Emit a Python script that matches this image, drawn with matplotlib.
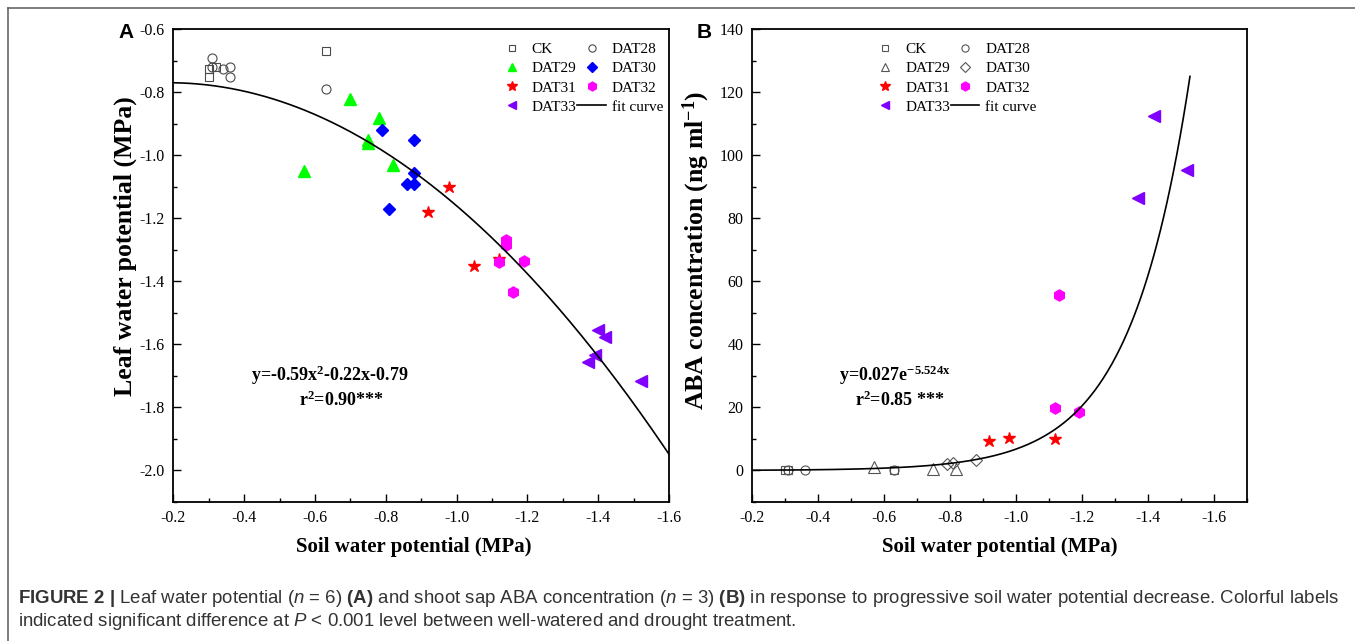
import numpy as np
import matplotlib
matplotlib.use('Agg')
import matplotlib.pyplot as plt
from matplotlib.lines import Line2D
from matplotlib.ticker import MultipleLocator, FormatStrFormatter
from matplotlib import font_manager as fm

# ---------------- data ----------------
# Panel A: leaf water potential (MPa) vs soil water potential (MPa)
ck_x_a = [-0.30, -0.30, -0.32, -0.63]
ck_y_a = [-0.725, -0.75, -0.72, -0.67]
dat28_x_a = [-0.31, -0.31, -0.34, -0.36, -0.36, -0.63]
dat28_y_a = [-0.69, -0.72, -0.725, -0.72, -0.75, -0.79]
dat29_x_a = [-0.57, -0.70, -0.75, -0.75, -0.78, -0.82]
dat29_y_a = [-1.05, -0.82, -0.95, -0.96, -0.88, -1.03]
dat30_x_a = [-0.79, -0.81, -0.86, -0.88, -0.88, -0.88]
dat30_y_a = [-0.92, -1.17, -1.09, -1.09, -1.055, -0.95]
dat31_x_a = [-0.92, -0.98, -1.05, -1.12]
dat31_y_a = [-1.18, -1.10, -1.35, -1.33]
dat32_x_a = [-1.12, -1.14, -1.14, -1.16, -1.19]
dat32_y_a = [-1.34, -1.27, -1.285, -1.435, -1.335]
dat33_x_a = [-1.37, -1.39, -1.40, -1.42, -1.52]
dat33_y_a = [-1.655, -1.635, -1.555, -1.575, -1.715]
fit_a = (-0.59, -0.22, -0.79)          # y = a x^2 + b x + c
fit_a_range = (-0.2, -1.6)

# Panel B: ABA concentration (ng/ml) vs soil water potential (MPa)
ck_x_b = [-0.30, -0.31, -0.63]
ck_y_b = [0.3, 0.3, 0.3]
dat28_x_b = [-0.31, -0.36, -0.63]
dat28_y_b = [0.2, 0.2, 0.2]
dat29_x_b = [-0.57, -0.75, -0.82]
dat29_y_b = [1.2, 0.4, 0.4]
dat30_x_b = [-0.79, -0.81, -0.88]
dat30_y_b = [2.0, 2.3, 3.3]
dat31_x_b = [-0.92, -0.98, -1.12]
dat31_y_b = [9.5, 10.4, 9.9]
dat32_x_b = [-1.12, -1.19, -1.13]
dat32_y_b = [19.8, 18.5, 55.7]
dat33_x_b = [-1.37, -1.42, -1.52]
dat33_y_b = [86.4, 112.4, 95.2]
fit_b = (0.027, -5.524)                 # y = a * exp(b x)
fit_b_range = (-0.2, -1.528)

x_ticks = [-0.2, -0.4, -0.6, -0.8, -1.0, -1.2, -1.4, -1.6]
y_ticks_a = [-0.6, -0.8, -1.0, -1.2, -1.4, -1.6, -1.8, -2.0]
y_ticks_b = [0, 20, 40, 60, 80, 100, 120, 140]

# ---------------- style ----------------
names = {f.name for f in fm.fontManager.ttflist}
cap_family = 'Liberation Sans Narrow' if 'Liberation Sans Narrow' in names else 'Liberation Sans'
SERIF = 'Liberation Serif'

plt.rcParams['font.family'] = [SERIF, 'DejaVu Serif']
plt.rcParams['axes.unicode_minus'] = False
plt.rcParams['mathtext.fontset'] = 'custom'
plt.rcParams['mathtext.rm'] = 'Liberation Serif:bold'
plt.rcParams['mathtext.default'] = 'rm'
plt.rcParams['mathtext.it'] = cap_family + ':italic'
plt.rcParams['mathtext.bf'] = cap_family + ':bold'

W, H = 1355, 641
fig = plt.figure(figsize=(W / 100, H / 100), dpi=100)
fig.patch.set_facecolor('white')

# outer frame (top and left border lines)
fig.add_artist(Line2D([8 / W, 1.0], [1 - 8 / H, 1 - 8 / H], transform=fig.transFigure,
                      color='#5a5a5a', lw=1.1))
fig.add_artist(Line2D([8 / W, 8 / W], [0, 1 - 8 / H], transform=fig.transFigure,
                      color='#5a5a5a', lw=1.1))

ax_bottom = 1 - 502 / H
ax_height = (502 - 29.3) / H
axA = fig.add_axes([173.3 / W, ax_bottom, (669 - 173.3) / W, ax_height])
axB = fig.add_axes([752 / W, ax_bottom, (1246.7 - 752) / W, ax_height])

GREEN, BLUE, RED, MAGENTA, PURPLE = '#00FF00', '#0000FF', '#FF0000', '#FF00FF', '#8000FF'
OPEN_EDGE = '#4a4a4a'


def style_axes(ax):
    for s in ax.spines.values():
        s.set_linewidth(1.3)
        s.set_color('black')
    ax.tick_params(which='both', direction='in', top=False, right=False,
                   labelsize=11.5, width=1.0, color='black', pad=6)
    ax.tick_params(which='major', length=6)
    ax.tick_params(which='minor', length=3)


LEG_KW = dict(ncol=2, loc='upper left', frameon=False, borderaxespad=0, borderpad=0,
              handlelength=1.85, handletextpad=0.4, columnspacing=0.05, labelspacing=0.36,
              numpoints=1, markerscale=0.8, prop={'family': SERIF, 'size': 11})

# ---------------- panel A ----------------
kw_open = dict(linestyle='none', markerfacecolor='none', markeredgecolor=OPEN_EDGE, markeredgewidth=0.8)
h_ck, = axA.plot(ck_x_a, ck_y_a, marker='s', markersize=6, label='CK', **kw_open)
h_28, = axA.plot(dat28_x_a, dat28_y_a, marker='o', markersize=6.5, label='DAT28', **kw_open)
h_29, = axA.plot(dat29_x_a, dat29_y_a, linestyle='none', marker='^', markersize=8, color=GREEN, label='DAT29')
h_30, = axA.plot(dat30_x_a, dat30_y_a, linestyle='none', marker='D', markersize=6.5, color=BLUE, label='DAT30')
h_31, = axA.plot(dat31_x_a, dat31_y_a, linestyle='none', marker='*', markersize=9, color=RED, label='DAT31')
h_32, = axA.plot(dat32_x_a, dat32_y_a, linestyle='none', marker='h', markersize=8, color=MAGENTA, label='DAT32')
h_33, = axA.plot(dat33_x_a, dat33_y_a, linestyle='none', marker='<', markersize=8, color=PURPLE, label='DAT33')
xa = np.linspace(fit_a_range[0], fit_a_range[1], 300)
h_fit, = axA.plot(xa, fit_a[0] * xa ** 2 + fit_a[1] * xa + fit_a[2], color='black', lw=1.2, label='fit curve')

axA.set_xlim(-0.2, -1.6)
axA.set_ylim(-2.1, -0.6)
axA.set_xticks(x_ticks)
axA.set_yticks(y_ticks_a)
axA.xaxis.set_minor_locator(MultipleLocator(0.1))
axA.yaxis.set_minor_locator(MultipleLocator(0.1))
axA.xaxis.set_major_formatter(FormatStrFormatter('%.1f'))
axA.yaxis.set_major_formatter(FormatStrFormatter('%.1f'))
style_axes(axA)
axA.set_xlabel('Soil water potential (MPa)', fontfamily=SERIF, fontweight='bold', fontsize=15)
axA.set_ylabel('Leaf water potential (MPa)', fontfamily=SERIF, fontweight='bold', fontsize=18.5)
axA.xaxis.set_label_coords(0.485, -0.075)
axA.yaxis.set_label_coords(-0.074, 0.542)

axA.legend(handles=[h_ck, h_29, h_31, h_33, h_28, h_30, h_32, h_fit],
           bbox_to_anchor=(0.654, 0.972), **LEG_KW)

axA.text(0.316, 0.269, 'y=-0.59x$^{2}$-0.22x-0.79', transform=axA.transAxes, ha='center', va='center',
         fontfamily=SERIF, fontweight='bold', fontsize=13)
axA.text(0.339, 0.216, 'r$^{2}$=0.90***', transform=axA.transAxes, ha='center', va='center',
         fontfamily=SERIF, fontweight='bold', fontsize=13)

# ---------------- panel B ----------------
kw_open_b = dict(linestyle='none', markerfacecolor='none', markeredgecolor='#555555', markeredgewidth=0.8)
g_ck, = axB.plot(ck_x_b, ck_y_b, marker='s', markersize=6, label='CK', **kw_open_b)
g_28, = axB.plot(dat28_x_b, dat28_y_b, marker='o', markersize=6.5, label='DAT28', **kw_open_b)
g_29, = axB.plot(dat29_x_b, dat29_y_b, marker='^', markersize=8, label='DAT29', **kw_open_b)
g_30, = axB.plot(dat30_x_b, dat30_y_b, marker='D', markersize=6.5, label='DAT30', **kw_open_b)
g_31, = axB.plot(dat31_x_b, dat31_y_b, linestyle='none', marker='*', markersize=9, color=RED, label='DAT31')
g_32, = axB.plot(dat32_x_b, dat32_y_b, linestyle='none', marker='h', markersize=8, color=MAGENTA, label='DAT32')
g_33, = axB.plot(dat33_x_b, dat33_y_b, linestyle='none', marker='<', markersize=8, color=PURPLE, label='DAT33')
xb = np.linspace(fit_b_range[0], fit_b_range[1], 400)
g_fit, = axB.plot(xb, fit_b[0] * np.exp(fit_b[1] * xb), color='black', lw=1.2, label='fit curve')

axB.set_xlim(-0.2, -1.7)
axB.set_ylim(-10, 140)
axB.set_xticks(x_ticks)
axB.set_yticks(y_ticks_b)
axB.xaxis.set_minor_locator(MultipleLocator(0.1))
axB.yaxis.set_minor_locator(MultipleLocator(10))
axB.xaxis.set_major_formatter(FormatStrFormatter('%.1f'))
style_axes(axB)
axB.set_xlabel('Soil water potential (MPa)', fontfamily=SERIF, fontweight='bold', fontsize=15)
axB.set_ylabel('ABA concentration (ng ml$^{-1}$)', fontfamily=SERIF, fontweight='bold', fontsize=18.5)
axB.xaxis.set_label_coords(0.5, -0.075)
axB.yaxis.set_label_coords(-0.08, 0.533)

axB.legend(handles=[g_ck, g_29, g_31, g_33, g_28, g_30, g_32, g_fit],
           bbox_to_anchor=(0.2405, 0.972), **LEG_KW)

axB.text(0.289, 0.269, 'y=0.027e$^{-5.524x}$', transform=axB.transAxes, ha='center', va='center',
         fontfamily=SERIF, fontweight='bold', fontsize=13)
axB.text(0.298, 0.216, 'r$^{2}$=0.85 ***', transform=axB.transAxes, ha='center', va='center',
         fontfamily=SERIF, fontweight='bold', fontsize=13)

# panel letters
fig.text(126 / W, 1 - 32 / H, 'A', fontfamily='Liberation Sans', fontweight='bold', fontsize=15,
         ha='center', va='center')
fig.text(704 / W, 1 - 32 / H, 'B', fontfamily='Liberation Sans', fontweight='bold', fontsize=15,
         ha='center', va='center')

# ---------------- caption ----------------
cap1 = (r'$\mathbf{FIGURE\ 2\ |}$ Leaf water potential ($\mathit{n}$ = 6) $\mathbf{(A)}$ and shoot sap ABA '
        r'concentration ($\mathit{n}$ = 3) $\mathbf{(B)}$ in response to progressive soil water potential '
        r'decrease. Colorful labels')
cap2 = (r'indicated significant difference at $\mathit{P}$ < 0.001 level between well-watered and '
        r'drought treatment.')
t1 = fig.text(18 / W, 1 - 603 / H, cap1, fontfamily=cap_family, fontsize=12, color='#333333',
              ha='left', va='baseline')
t2 = fig.text(18 / W, 1 - 626 / H, cap2, fontfamily=cap_family, fontsize=12, color='#333333',
              ha='left', va='baseline')
r = fig.canvas.get_renderer()
w1 = t1.get_window_extent(r).width
s = 12 * 1315 / w1
t1.set_fontsize(s)
t2.set_fontsize(s)

fig.savefig('out.png', dpi=100, facecolor='white')
